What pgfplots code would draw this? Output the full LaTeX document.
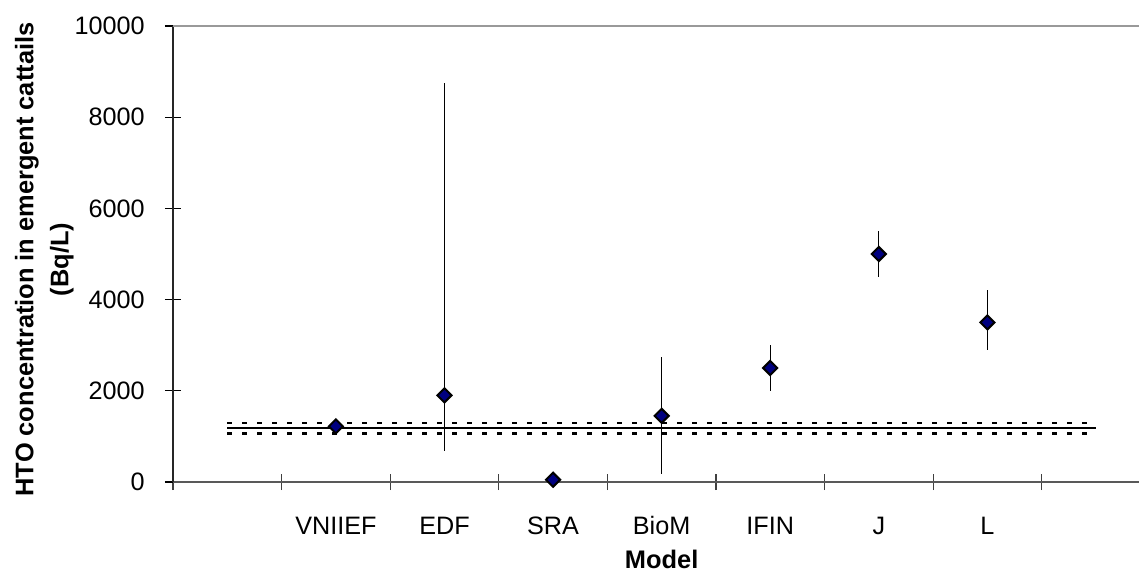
\documentclass[border=0pt]{standalone}
\usepackage{fontspec}
\setmainfont{Liberation Sans}
\usepackage{pgfplots}
\pgfplotsset{compat=1.18}
\definecolor{navy}{HTML}{000080}
\pgfplotstableread{
x y ep em
1.5 1220 0 0
2.5 1900 6850 1230
3.5 50 0 0
4.5 1450 1300 1280
5.5 2500 500 500
6.5 5000 500 500
7.5 3500 700 600
}\modeldata
\begin{document}
\begin{tikzpicture}
\useasboundingbox (0,0) rectangle (569.5bp,286.5bp);
\begin{axis}[
  at={(86.5bp,45.5bp)}, anchor=south west,
  scale only axis, width=488.65bp, height=228bp,
  xmin=0, xmax=9, ymin=0, ymax=10000,
  clip=false,
  axis lines*=left,
  x axis line style={black!65, line width=0.9bp},
  y axis line style={black!85, line width=0.9bp},
  xtick={1.5,2.5,...,7.5},
  xticklabels={VNIIEF,EDF,SRA,BioM,IFIN,J,L},
  minor xtick={0,1,...,9},
  major x tick style={draw=none},
  minor x tick style={black!75, line width=0.6bp},
  y tick style={black, line width=0.6bp},
  ytick={0,2000,...,10000},
  scaled y ticks=false,
  tick align=center,
  major tick length=8bp, minor tick length=8bp,
  /pgf/number format/assume math mode=true,
  /pgf/number format/1000 sep={},
  xticklabel style={anchor=base, yshift=-22.35bp, inner sep=0pt, font=\fontsize{12.6bp}{15bp}\selectfont},
  yticklabel style={anchor=east, xshift=-10bp, inner sep=0pt, font=\fontsize{12.6bp}{15bp}\selectfont},
  xlabel={Model},
  xlabel style={at={(axis description cs:0.5,-0.1895)}, anchor=base, inner sep=0pt, font=\bfseries\fontsize{12.7bp}{15bp}\selectfont},
  ylabel={HTO concentration in emergent cattails\\(Bq/L)},
  ylabel style={at={(axis description cs:-0.1318,0.488)}, anchor=center, align=center, inner sep=0pt, font=\bfseries\fontsize{12.7bp}{17.5bp}\selectfont},
]
\addplot[only marks, mark=square*, mark size=2.5bp,
  mark options={rotate=45, fill=navy, draw=black, line width=1bp},
  error bars/.cd, y dir=both, y explicit,
  error bar style={black, line width=0.5bp}, error mark=none]
  table[x=x, y=y, y error plus=ep, y error minus=em] {\modeldata};
\addplot[black, line width=1bp] coordinates {(0.5,1180) (8.5,1180)};
\addplot[black, line width=1.2bp, dash pattern=on 2.5bp off 5bp] coordinates {(0.5,1300) (8.5,1300)};
\addplot[black, line width=1.2bp, dash pattern=on 2.5bp off 5bp] coordinates {(0.5,1065) (8.5,1065)};
\draw[black!40, line width=1bp] (rel axis cs:0,1) -- (rel axis cs:1,1) -- (rel axis cs:1,0);
\end{axis}
\end{tikzpicture}
\end{document}
